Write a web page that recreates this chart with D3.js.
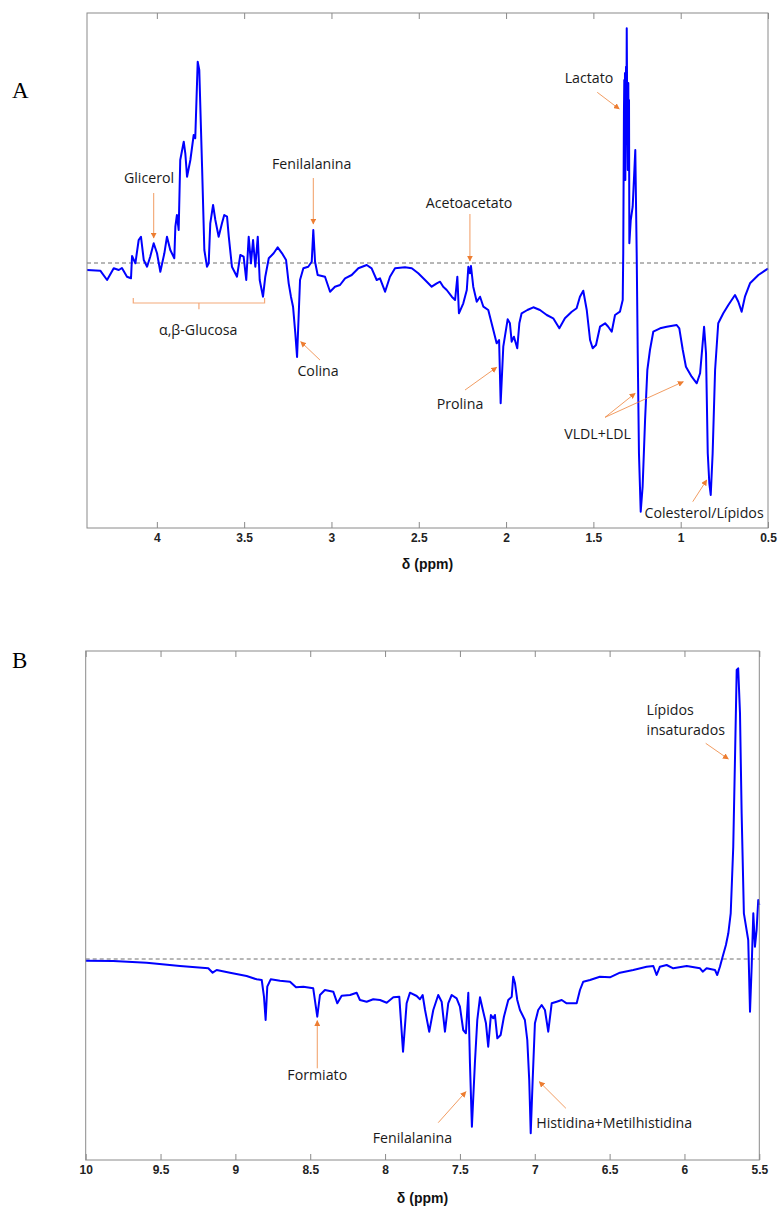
<!DOCTYPE html>
<html>
<head>
<meta charset="utf-8">
<script src="https://cdn.jsdelivr.net/npm/d3@7"></script>
<style>
  html, body { margin: 0; padding: 0; background: #fff; }
  svg { display: block; }
</style>
</head>
<body>
<svg id="chart" width="779" height="1209"></svg>
<script>
// ---------- DATA ----------
// Panel A (0.5 – 4.4 ppm), intensity in arbitrary units
const ppmA = [4.400,4.324,4.285,4.247,4.218,4.200,4.171,4.148,4.142,4.123,4.104,4.091,4.075,4.056,4.038,4.018,3.999,3.980,3.957,3.942,3.923,3.900,3.894,3.885,3.875,3.866,3.846,3.837,3.827,3.808,3.789,3.780,3.766,3.757,3.741,3.728,3.713,3.703,3.694,3.678,3.665,3.646,3.627,3.614,3.598,3.588,3.570,3.541,3.522,3.503,3.488,3.474,3.461,3.449,3.436,3.422,3.411,3.392,3.379,3.359,3.331,3.308,3.283,3.260,3.245,3.232,3.220,3.207,3.197,3.180,3.161,3.133,3.113,3.104,3.094,3.079,3.037,3.008,2.980,2.951,2.922,2.884,2.846,2.798,2.770,2.741,2.722,2.693,2.665,2.636,2.579,2.540,2.503,2.464,2.426,2.397,2.378,2.360,2.340,2.311,2.292,2.279,2.270,2.245,2.225,2.216,2.207,2.201,2.188,2.168,2.149,2.130,2.102,2.073,2.054,2.040,2.031,2.016,1.991,1.978,1.968,1.955,1.936,1.924,1.911,1.878,1.844,1.806,1.767,1.730,1.695,1.663,1.624,1.596,1.577,1.558,1.538,1.519,1.504,1.485,1.462,1.433,1.415,1.395,1.376,1.348,1.332,1.329,1.325,1.323,1.321,1.319,1.317,1.315,1.313,1.311,1.309,1.306,1.303,1.300,1.298,1.296,1.294,1.286,1.275,1.260,1.252,1.246,1.239,1.229,1.218,1.204,1.191,1.176,1.157,1.118,1.080,1.023,1.008,0.988,0.970,0.937,0.908,0.889,0.866,0.855,0.845,0.836,0.828,0.817,0.803,0.785,0.756,0.727,0.689,0.670,0.651,0.632,0.603,0.555,0.507,0.500];
const intA = [-7,-7.7,-17,-5.3,-7,-5,-13.7,-15.3,7,-0.3,23,26.3,3,-3.7,6.3,19.7,9.7,-8.7,9.7,26.3,13,4.7,36.3,48,33,103,121.3,109.7,86.3,103,128,124.7,201.3,193,96.3,13,-3.7,-0.3,39.7,58,43,26.3,39.7,48,46.3,26.3,-3.7,-13.7,8,6.3,-17,26.3,-0.3,23,-3.7,26.3,-17,-33.7,-13.7,4.7,9.7,15.7,9.7,3,-20.3,-33.7,-43.7,-70.3,-94,-17,-5.3,-3.7,1.3,33,1.3,-12,-13.7,-28.7,-23.7,-22,-15.3,-12,-5.3,-2,-5.3,-17,-15.3,-28.7,-13.7,-5.3,-4.3,-5.3,-10.3,-17,-23.7,-20.3,-18.7,-23.7,-27,-33.7,-37,-13.7,-50.3,-40.3,-27,-3.7,-10.3,-3,-23.7,-38.7,-33.7,-43.7,-47,-67,-80.3,-77,-140.3,-83.7,-56.3,-60.3,-78.7,-73.7,-85.3,-60.3,-50.3,-47,-44.3,-47,-52,-55.3,-65.3,-55.3,-48.7,-45.3,-33.7,-27.7,-47,-77,-85.3,-82,-63.7,-60.3,-63.7,-68.7,-52,-48.7,-37,9.7,150,183,110,190,83,170,196.3,120,234.7,140,93,180,110,163,19.7,43,56.3,113,9.7,-90.3,-190.3,-248.7,-223.7,-157,-107,-87,-68.7,-65.3,-63.7,-62,-65.3,-87,-103.7,-113.7,-120.3,-110.3,-63.7,-90.3,-190.3,-220.3,-232,-190.3,-107,-60.3,-50.3,-42,-32,-38.7,-48.7,-33.7,-20.3,-12,-6.3,-5.5];

// Panel B (5.5 – 10 ppm)
const ppmB = [10.000,9.816,9.593,9.370,9.181,9.152,9.125,9.036,8.925,8.858,8.824,8.809,8.798,8.787,8.764,8.702,8.635,8.595,8.546,8.480,8.453,8.435,8.402,8.346,8.319,8.290,8.234,8.190,8.168,8.123,8.079,8.034,7.989,7.945,7.905,7.880,7.856,7.834,7.789,7.767,7.749,7.733,7.705,7.678,7.645,7.622,7.600,7.578,7.555,7.522,7.500,7.478,7.460,7.444,7.433,7.420,7.400,7.384,7.366,7.344,7.326,7.311,7.293,7.277,7.266,7.250,7.228,7.206,7.177,7.154,7.144,7.132,7.117,7.099,7.066,7.050,7.037,7.027,7.014,6.999,6.977,6.954,6.932,6.910,6.887,6.854,6.820,6.787,6.720,6.698,6.676,6.631,6.565,6.498,6.431,6.342,6.253,6.208,6.186,6.164,6.119,6.075,5.985,5.896,5.878,5.852,5.796,5.781,5.763,5.745,5.723,5.707,5.691,5.674,5.663,5.651,5.641,5.629,5.618,5.603,5.574,5.562,5.551,5.540,5.529,5.518,5.507,5.500];
const intB = [-1.7,-2,-3.7,-7,-9.3,-13.7,-11,-13.7,-17,-20.3,-21,-37.7,-61,-27.7,-20.3,-21.7,-22.7,-28.3,-27.7,-29.3,-57.7,-36,-31,-32.7,-44.3,-36.7,-36,-33.7,-41,-42.7,-40.3,-41,-43.7,-38.3,-37.7,-92.7,-44.3,-33.7,-37,-40.3,-36,-51,-72.7,-51,-36,-42.7,-72.7,-44.3,-36,-39.3,-47.7,-71,-74.3,-33.7,-104.3,-167.7,-104.3,-61,-38.3,-52.7,-64.3,-87.7,-56,-59.3,-56,-79.3,-76,-57.7,-41,-37.7,-17.7,-24.3,-41,-51,-61,-81,-121,-174.3,-121,-64.3,-51,-46,-51,-72.7,-44.3,-42.7,-41,-44.3,-44.3,-31,-22.7,-21,-17.7,-18.3,-13.7,-11,-7.7,-7,-16,-7.7,-6,-9.3,-7,-9.3,-12.7,-9.3,-11,-16,-7.7,2.3,14,25.7,45.7,112.3,195.7,289,290.7,245.7,145.7,45.7,19,-52.7,-7.7,45.7,12.3,29,59,54];

const ticksA = [4, 3.5, 3, 2.5, 2, 1.5, 1, 0.5];
const tickLabelsA = ["4", "3.5", "3", "2.5", "2", "1.5", "1", "0.5"];
const ticksB = [10, 9.5, 9, 8.5, 8, 7.5, 7, 6.5, 6, 5.5];
const tickLabelsB = ["10", "9.5", "9", "8.5", "8", "7.5", "7", "6.5", "6", "5.5"];

const axisTitle = "δ (ppm)";
const panelLetters = ["A", "B"];

// Annotations (in data units: ppm, intensity)
const labelsA = [
  {text: "Glicerol", x: 4.045, y: 85, ax: [4.018, 70], ah: [4.018, 25]},
  {text: "Fenilalanina", x: 3.113, y: 99, ax: [3.104, 85], ah: [3.104, 39]},
  {text: "Acetoacetato", x: 2.212, y: 60.3, ax: [2.207, 49], ah: [2.207, 2]},
  {text: "Lactato", x: 1.525, y: 184.7, ax: [1.478, 170.7], ah: [1.352, 154]},
  {text: "Colina", x: 3.077, y: -107.7, ax: [3.066, -97], ah: [3.176, -78.7]},
  {text: "Prolina", x: 2.264, y: -141, ax: [2.235, -127], ah: [2.054, -104.3]},
  {text: "VLDL+LDL", x: 1.476, y: -171, ax: [1.433, -154.3], ah: [1.261, -130.3]},
  {text: null, x: 0, y: 0, ax: [1.433, -154.3], ah: [0.985, -118.7]},
  {text: "Colesterol/Lípidos", x: 0.866, y: -249.7, ax: [0.931, -238.7], ah: [0.851, -217]}
];
const glucoseBracket = {text: "α,β-Glucosa", x1: 4.135, x2: 3.383, xm: 3.759, y: -40, yEnd: -35, yMid: -46.3, tx: 3.763, ty: -67};
const labelsB = [
  {text: "Formiato", x: 8.453, y: -116, ax: [8.453, -109.3], ah: [8.453, -61.7]},
  {text: "Fenilalanina", x: 7.817, y: -179.3, ax: [7.645, -163.7], ah: [7.460, -132.7]},
  {text: "Histidina+Metilhistidina", x: 6.469, y: -163.7, ax: [6.792, -149.3], ah: [6.970, -122.7]}
];
const lipidLabel = {lines: ["Lípidos", "insaturados"], x: 6.253, y: [249, 229], ax: [5.858, 215.7], ah: [5.707, 200]};

// ---------- DRAW ----------
const svg = d3.select("#chart");
const ORANGE = "#ED7D31";
const FRAME = "#8a8a8a";
const LABEL_FONT = "'Open Sans', 'Noto Sans', sans-serif";
const LABEL_SIZE = "14.2px";

svg.append("defs").append("marker")
  .attr("id", "arrowhead")
  .attr("viewBox", "0 0 10 10")
  .attr("refX", 9).attr("refY", 5)
  .attr("markerWidth", 6).attr("markerHeight", 6)
  .attr("markerUnits", "userSpaceOnUse")
  .attr("orient", "auto")
  .append("path").attr("d", "M0,0 L10,5 L0,10 Z").attr("fill", ORANGE);

function panel(cfg) {
  const {left, right, top, bottom, xDomain, yDomain, ppm, inten, ticks, tickLabels} = cfg;
  const x = d3.scaleLinear().domain(xDomain).range([left, right]);
  const y = d3.scaleLinear().domain(yDomain).range([bottom, top]);
  const g = svg.append("g");

  // zero line
  g.append("line")
    .attr("x1", left).attr("x2", right)
    .attr("y1", y(0)).attr("y2", y(0))
    .attr("stroke", "#6e6e6e").attr("stroke-width", 1)
    .attr("stroke-dasharray", "4,3");

  // spectrum
  const data = ppm.map((p, i) => [p, inten[i]]);
  g.append("path")
    .datum(data)
    .attr("fill", "none")
    .attr("stroke", "#0000FF")
    .attr("stroke-width", 2)
    .attr("stroke-linejoin", "round")
    .attr("d", d3.line().x(d => x(d[0])).y(d => y(d[1])));

  // axes
  const fmt = d => tickLabels[ticks.indexOf(d)];
  const axB = g.append("g").attr("transform", `translate(0,${bottom})`)
    .call(d3.axisBottom(x).tickValues(ticks).tickFormat(fmt).tickSize(-6).tickPadding(5));
  const axT = g.append("g").attr("transform", `translate(0,${top})`)
    .call(d3.axisTop(x).tickValues(ticks).tickFormat("").tickSize(-6));
  [axB, axT].forEach(a => {
    a.select(".domain").remove();
    a.selectAll(".tick line").attr("stroke", FRAME);
  });
  axB.selectAll(".tick text")
    .attr("fill", "#222")
    .style("font-family", "'Liberation Sans', Arial, sans-serif")
    .style("font-weight", "bold")
    .style("font-size", "12px");

  // frame
  g.append("rect")
    .attr("x", left).attr("y", top)
    .attr("width", right - left).attr("height", bottom - top)
    .attr("fill", "none").attr("stroke", FRAME).attr("stroke-width", 1);

  // axis title
  g.append("text")
    .attr("x", (left + right) / 2).attr("y", cfg.titleY)
    .attr("text-anchor", "middle")
    .style("font-family", "'Liberation Sans', Arial, sans-serif")
    .style("font-weight", "bold").style("font-size", "14px")
    .attr("fill", "#111")
    .text(axisTitle);

  // panel letter
  svg.append("text")
    .attr("x", 12).attr("y", cfg.letterY)
    .style("font-family", "'Liberation Serif', 'Times New Roman', serif")
    .style("font-size", "23px")
    .attr("fill", "#000")
    .text(cfg.letter);

  return {g, x, y};
}

function addLabel(p, tx, ty, text, anchor) {
  p.g.append("text")
    .attr("x", p.x(tx)).attr("y", p.y(ty)).attr("dy", "0.35em")
    .attr("text-anchor", anchor || "middle")
    .style("font-family", LABEL_FONT).style("font-size", LABEL_SIZE)
    .attr("fill", "#1a1a1a")
    .text(text);
}

function addArrow(p, from, to) {
  p.g.append("line")
    .attr("x1", p.x(from[0])).attr("y1", p.y(from[1]))
    .attr("x2", p.x(to[0])).attr("y2", p.y(to[1]))
    .attr("stroke", ORANGE).attr("stroke-width", 0.9)
    .attr("stroke-opacity", 0.85)
    .attr("marker-end", "url(#arrowhead)");
}

function annotate(p, list) {
  list.forEach(a => {
    if (a.text) addLabel(p, a.x, a.y, a.text);
    addArrow(p, a.ax, a.ah);
  });
}

const pA = panel({
  left: 87, right: 768, top: 13, bottom: 528,
  xDomain: [4.4, 0.5], yDomain: [-265, 250],
  ppm: ppmA, inten: intA, ticks: ticksA, tickLabels: tickLabelsA,
  titleY: 569, letter: panelLetters[0], letterY: 98
});
annotate(pA, labelsA);

// glucose bracket
const gb = glucoseBracket;
pA.g.append("path")
  .attr("d", `M${pA.x(gb.x1)},${pA.y(gb.yEnd)} L${pA.x(gb.x1)},${pA.y(gb.y)} L${pA.x(gb.x2)},${pA.y(gb.y)} L${pA.x(gb.x2)},${pA.y(gb.yEnd)} M${pA.x(gb.xm)},${pA.y(gb.y)} L${pA.x(gb.xm)},${pA.y(gb.yMid)}`)
  .attr("fill", "none").attr("stroke", "#F4A97A").attr("stroke-width", 1.2);
addLabel(pA, gb.tx, gb.ty, gb.text);

const pB = panel({
  left: 85.7, right: 759.3, top: 651, bottom: 1160,
  xDomain: [10, 5.5], yDomain: [-201, 308],
  ppm: ppmB, inten: intB, ticks: ticksB, tickLabels: tickLabelsB,
  titleY: 1203, letter: panelLetters[1], letterY: 668
});
annotate(pB, labelsB);

const ll = lipidLabel;
ll.lines.forEach((t, i) => addLabel(pB, ll.x, ll.y[i], t, "start"));
addArrow(pB, ll.ax, ll.ah);
</script>
</body>
</html>
